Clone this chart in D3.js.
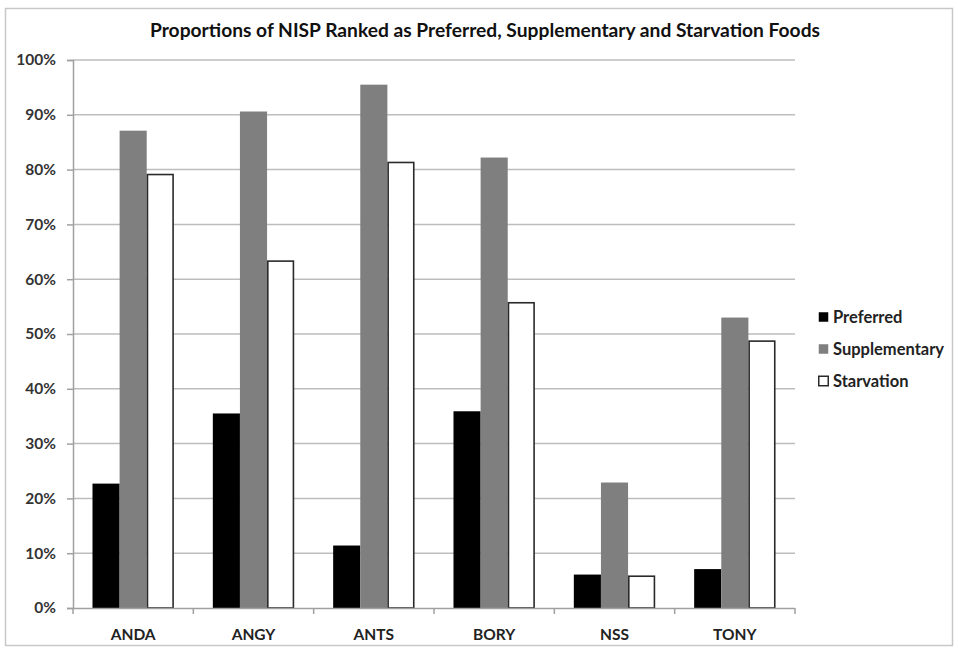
<!DOCTYPE html>
<html>
<head>
<meta charset="utf-8">
<script src="https://cdn.jsdelivr.net/npm/d3@7"></script>
<style>
  html, body { margin: 0; padding: 0; background: #fff; }
  svg { display: block; }
  text { font-family: Lato, "Open Sans", sans-serif; font-weight: bold; }
</style>
</head>
<body>
<svg id="chart" width="959" height="649"></svg>
<script>
// Sites and the share of NISP in each food ranking (percent)
const sites = ["ANDA", "ANGY", "ANTS", "BORY", "NSS", "TONY"];
const seriesNames = ["Preferred", "Supplementary", "Starvation"];
const preferred = [22.7, 35.5, 11.4, 35.9, 6.1, 7.1];
const supplementary = [87.1, 90.6, 95.5, 82.2, 22.9, 53.0];
const starvation = [79.1, 63.3, 81.3, 55.7, 5.8, 48.7];
const yTicks = [0, 10, 20, 30, 40, 50, 60, 70, 80, 90, 100];
const titleText = "Proportions of NISP Ranked as Preferred, Supplementary and Starvation Foods";

const seriesValues = [preferred, supplementary, starvation];
const fills = ["#000000", "#7f7f7f", "#ffffff"];
const strokes = ["none", "none", "#2a2a2a"];

const svg = d3.select("#chart");

// outer frame of the chart area
svg.append("rect")
  .attr("x", 5.5).attr("y", 8.5)
  .attr("width", 947).attr("height", 637)
  .attr("fill", "#fff")
  .attr("stroke", "#c8c8c8")
  .attr("stroke-width", 1.5);

const plot = { left: 73, right: 795, top: 60, bottom: 608 };

const x = d3.scaleBand()
  .domain(sites)
  .range([plot.left, plot.right])
  .paddingInner(0.324)
  .paddingOuter(0.162);

const xSeries = d3.scaleBand()
  .domain(seriesNames)
  .range([0, x.bandwidth()])
  .padding(0);

const y = d3.scaleLinear()
  .domain([0, 100])
  .range([plot.bottom, plot.top]);

// horizontal gridlines
svg.append("g")
  .selectAll("line")
  .data(yTicks.filter(d => d > 0))
  .join("line")
  .attr("x1", plot.left).attr("x2", plot.right)
  .attr("y1", d => y(d)).attr("y2", d => y(d))
  .attr("stroke", "#bdbdbd")
  .attr("stroke-width", 1.5);

// y axis
const yAxis = d3.axisLeft(y)
  .tickValues(yTicks)
  .tickFormat(d => d + "%")
  .tickSize(6)
  .tickPadding(11);

const gy = svg.append("g")
  .attr("transform", `translate(${plot.left},0)`)
  .call(yAxis);
gy.select(".domain").attr("stroke", "#a0a0a0").attr("stroke-width", 1.5);
gy.selectAll(".tick line").attr("stroke", "#a0a0a0").attr("stroke-width", 1.5);
gy.selectAll(".tick text")
  .attr("fill", "#333")
  .style("font-size", "15.5px")
  .style("font-family", "Lato, sans-serif")
  .style("font-weight", "bold");

// bars
const groups = svg.append("g")
  .selectAll("g")
  .data(seriesNames.map((name, i) => ({ name, i })))
  .join("g");

groups.selectAll("rect")
  .data(s => sites.map((site, j) => ({ site, s, v: seriesValues[s.i][j] })))
  .join("rect")
  .attr("x", d => x(d.site) + xSeries(d.s.name) + (d.s.i === 2 ? 0.75 : 0))
  .attr("width", d => xSeries.bandwidth() - (d.s.i === 2 ? 1.5 : 0))
  .attr("y", d => y(d.v))
  .attr("height", d => y(0) - y(d.v))
  .attr("fill", d => fills[d.s.i])
  .attr("stroke", d => strokes[d.s.i])
  .attr("stroke-width", 1.6);

// x axis with ticks at category boundaries
const boundaries = sites.map(s => x(s) - x.step() * x.paddingInner() / 2).concat([plot.right]);
svg.append("line")
  .attr("x1", plot.left).attr("x2", plot.right)
  .attr("y1", y(0) + 0.5).attr("y2", y(0) + 0.5)
  .attr("stroke", "#a0a0a0").attr("stroke-width", 1.5);
svg.append("g")
  .selectAll("line")
  .data(boundaries)
  .join("line")
  .attr("x1", d => d).attr("x2", d => d)
  .attr("y1", y(0)).attr("y2", y(0) + 6)
  .attr("stroke", "#a0a0a0").attr("stroke-width", 1.5);

svg.append("g")
  .selectAll("text")
  .data(sites)
  .join("text")
  .attr("x", d => x(d) + x.bandwidth() / 2)
  .attr("y", 639.5)
  .attr("text-anchor", "middle")
  .attr("fill", "#222")
  .style("font-size", "15.5px")
  .text(d => d);

// title
svg.append("text")
  .attr("x", 485)
  .attr("y", 37)
  .attr("text-anchor", "middle")
  .attr("fill", "#111")
  .style("font-size", "18.5px")
  .attr("textLength", 670)
  .attr("lengthAdjust", "spacingAndGlyphs")
  .text(titleText);

// legend
const legend = svg.append("g")
  .selectAll("g")
  .data(seriesNames)
  .join("g")
  .attr("transform", (d, i) => `translate(818,${317 + i * 32})`);

legend.append("rect")
  .attr("x", 0.75).attr("y", -4.75)
  .attr("width", 9.5).attr("height", 9.5)
  .attr("fill", (d, i) => fills[i])
  .attr("stroke", (d, i) => i === 2 ? "#2a2a2a" : "none")
  .attr("stroke-width", 1.5);

legend.append("text")
  .attr("x", 15)
  .attr("y", 6)
  .attr("fill", "#222")
  .style("font-size", "16.5px")
  .text(d => d);
</script>
</body>
</html>
